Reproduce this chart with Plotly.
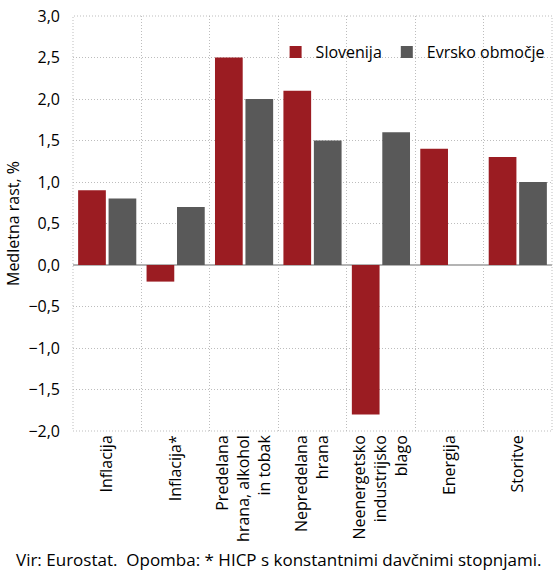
import plotly.graph_objects as go

categories = ["Inflacija", "Inflacija*", "Predelana<br>hrana, alkohol<br>in tobak",
              "Nepredelana<br>hrana", "Neenergetsko<br>industrijsko<br>blago", "Energija", "Storitve"]
slovenija = [0.9, -0.2, 2.5, 2.1, -1.8, 1.4, 1.3]
evro = [0.8, 0.7, 2.0, 1.5, 1.6, 0.0, 1.0]
yticks = [-2.0, -1.5, -1.0, -0.5, 0.0, 0.5, 1.0, 1.5, 2.0, 2.5, 3.0]

FONT = "Open Sans"
FS = 16
x = list(range(len(categories)))

fig = go.Figure()
fig.add_trace(go.Bar(x=x, y=slovenija, name="Slovenija", marker_color="#9B1C22",
                     marker_line_width=0))
fig.add_trace(go.Bar(x=x, y=evro, name="Evrsko območje", marker_color="#595959",
                     marker_line_width=0))

GRID = "#bdbdbd"
fig.update_layout(
    width=554, height=572,
    margin=dict(l=73, r=2, t=16, b=141, autoexpand=False),
    paper_bgcolor="white", plot_bgcolor="white",
    font=dict(family=FONT, size=FS, color="black"),
    separators=",.",
    barmode="group", bargap=0.11, bargroupgap=0.09,
    showlegend=True,
    legend=dict(orientation="h", x=0.995, y=0.913, xanchor="right", yanchor="middle",
                font=dict(size=FS), bgcolor="rgba(0,0,0,0)", itemsizing="constant",
                traceorder="normal", itemwidth=30),
    xaxis=dict(tickvals=x, ticktext=categories, tickangle=-90, range=[-0.5, 6.5],
               showgrid=False, ticks="", zeroline=False, showline=False,
               tickfont=dict(size=FS), automargin=False,
               minor=dict(tick0=0.5, dtick=1, showgrid=True, gridcolor=GRID,
                          griddash="1px,2px", gridwidth=1, ticks="")),
    yaxis=dict(range=[-2.0, 3.0], tickvals=yticks, tickformat=".1f",
               showgrid=True, gridcolor=GRID, griddash="1px,2px", gridwidth=1,
               zeroline=True, zerolinecolor="#b4b4b4", zerolinewidth=2,
               ticks="", showline=False, tickfont=dict(size=FS),
               ticklabelstandoff=12, automargin=False,
               title=dict(text="Medletna rast, %", font=dict(size=FS), standoff=4)),
)

# dotted plot frame
fig.add_shape(type="rect", xref="paper", yref="paper", x0=0, x1=1, y0=0, y1=1,
              line=dict(color=GRID, width=1, dash="1px,2px"), layer="below")

fig.add_annotation(text="Vir: Eurostat.  Opomba: * HICP s konstantnimi davčnimi stopnjami.",
                   xref="paper", yref="paper", x=0.428, y=-0.31, xanchor="center",
                   yanchor="middle", showarrow=False, font=dict(size=17))

fig.write_html("out.html")
